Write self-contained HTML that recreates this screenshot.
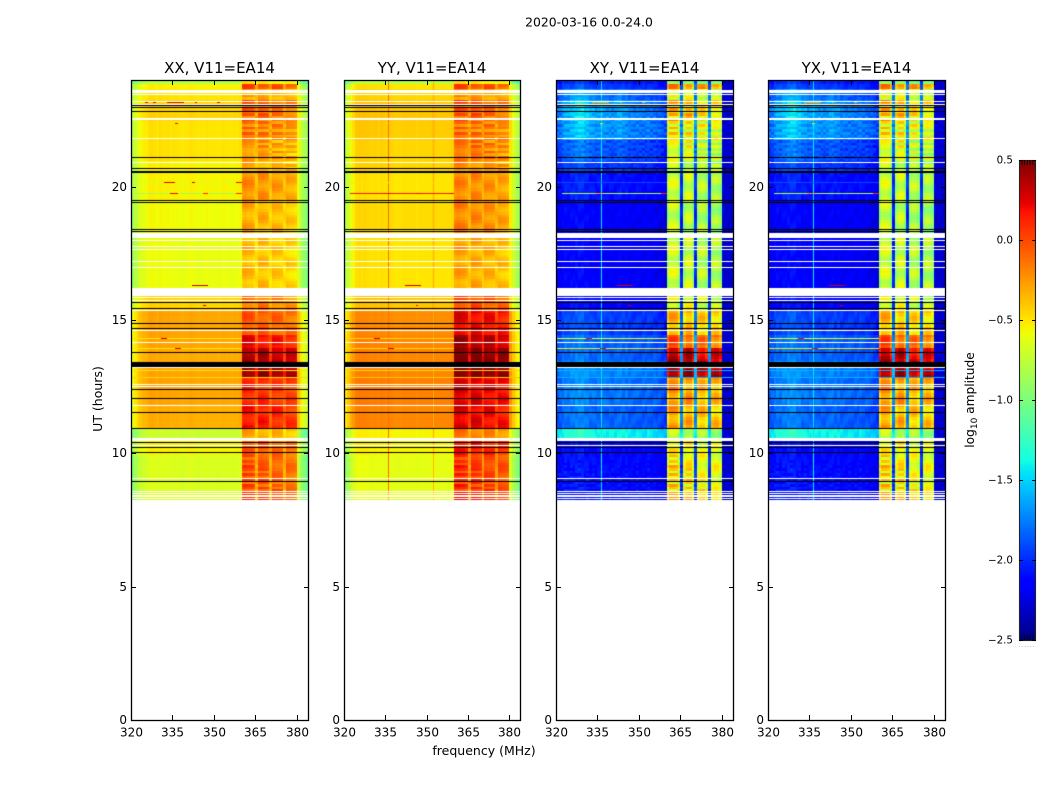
<!DOCTYPE html>
<html lang="en">
<head>
<meta charset="utf-8">
<title>2020-03-16 0.0-24.0</title>
<style>
html,body{margin:0;padding:0;background:#fff;}
#figure{position:relative;width:1050px;height:800px;overflow:hidden;background:#fff;font-family:"DejaVu Sans","Liberation Sans",sans-serif;}
canvas{position:absolute;display:block;}
#overlay{position:absolute;left:0;top:0;}
#overlay text{font-family:"DejaVu Sans","Liberation Sans",sans-serif;fill:#000;}
</style>
</head>
<body>
<div id="figure">
<svg id="overlay" width="1050" height="800" viewBox="0 0 1050 800">
<text x="589" y="26.5" font-size="12.4" text-anchor="middle">2020-03-16 0.0-24.0</text>
<text x="484" y="755" font-size="12.5" text-anchor="middle">frequency (MHz)</text>
<text transform="translate(102,399) rotate(-90)" font-size="12.5" text-anchor="middle">UT (hours)</text>
<text transform="translate(974,400) rotate(-90)" font-size="12.2" text-anchor="middle">log<tspan font-size="9" dy="3">10</tspan><tspan dy="-3"> amplitude</tspan></text>
</svg>
</div>
<script>
/* ---------- axis data ---------- */
const panelTitles = ["XX, V11=EA14", "YY, V11=EA14", "XY, V11=EA14", "YX, V11=EA14"];
const xTickValues = [320, 335, 350, 365, 380];
const yTickValues = [0, 5, 10, 15, 20];
const colorbarTicks = [0.5, 0, -0.5, -1, -1.5, -2, -2.5];
const freqRange = [320, 384];
const hourRange = [0, 24];
const colorRange = [-2.5, 0.5];
const firstRowHour = 8.25;
const rowStepHours = 0.1;

/* ---------- time segments (start hour, bottom to top) ---------- */
const segmentStart = [8.25, 9.94, 10.5, 10.95, 11.81, 12.83, 13.24, 13.43, 13.99, 14.44, 15.34, 16.13, 18.3, 19.43, 20.55, 21.0, 21.75, 22.5, 23.25, 23.63, 23.89];
const baseXX = [-0.66, -0.55, -0.72, -0.33, -0.3, -0.3, -0.3, -0.32, -0.3, -0.3, -0.45, -0.6, -0.58, -0.55, -0.55, -0.5, -0.5, -0.45, -0.5, -0.55, -0.8];
const rfiXX = [-0.1, -0.1, -0.35, 0.1, 0.05, 0.42, 0.42, 0.32, 0.15, -0.1, -0.2, -0.42, -0.38, -0.28, -0.38, -0.32, -0.22, -0.15, -0.35, -0.05, -0.55];
const baseYY = [-0.62, -0.55, -0.55, -0.2, -0.18, -0.2, -0.2, -0.2, -0.2, -0.22, -0.4, -0.5, -0.47, -0.5, -0.45, -0.45, -0.42, -0.4, -0.45, -0.5, -0.8];
const rfiYY = [0.0, 0.1, -0.2, 0.2, 0.22, 0.5, 0.5, 0.48, 0.35, 0.18, -0.05, -0.35, -0.25, -0.25, -0.28, -0.2, -0.2, -0.12, -0.3, -0.05, -0.55];
const baseXY = [-2.15, -2.15, -1.5, -1.9, -1.85, -1.8, -1.8, -1.9, -1.9, -2.0, -2.2, -2.2, -2.2, -2.15, -2.05, -2.0, -1.85, -1.85, -1.95, -2.05, -2.1];
const rfiXY = [-0.55, -0.6, -0.8, -0.35, -0.3, 0.4, 0.4, 0.3, -0.1, -0.4, -0.65, -0.75, -0.8, -0.75, -0.78, -0.7, -0.6, -0.45, -0.65, -0.25, -1.0];
const baseYX = [-2.15, -2.15, -1.5, -1.9, -1.85, -1.8, -1.8, -1.9, -1.9, -2.0, -2.2, -2.2, -2.2, -2.15, -2.05, -2.0, -1.85, -1.85, -1.95, -2.05, -2.1];
const rfiYX = [-0.55, -0.6, -0.8, -0.37, -0.3, 0.38, 0.38, 0.28, -0.1, -0.42, -0.65, -0.75, -0.8, -0.75, -0.78, -0.7, -0.6, -0.45, -0.65, -0.25, -1.0];
const crossWarmth = [0.05, 0.05, 0.2, 0.12, 0.12, 0.1, 0.1, 0.1, 0.1, 0.1, 0.1, 0.05, 0.05, 0.1, 0.12, 0.2, 0.3, 0.38, 0.32, 0.15, 0.1];

/* ---------- channel profiles (320 to 383 MHz, one value per MHz) ---------- */
const profileXX = [-0.3,-0.2,-0.12,-0.07,-0.03,-0.02,0.02,0.03,0.02,0,0.03,0.02,0.01,0.02,0,0.01,0.01,0,-0.01,0,0,0.02,0.01,0,-0.01,0,0,0.01,0,0,0,-0.01,0,0.01,0,0,-0.01,0,0,0.02,0,0,0,0,0,0,0,0,0,0,0,0,0,0,0,0,0,0,0,0,-0.05,-0.2,-0.3,-0.38];
const profileYY = [-0.32,-0.22,-0.12,-0.06,0.02,0.03,0.02,0.03,0.02,0.01,0.01,0.02,0,0.02,0.01,0,0.01,0,-0.01,-0.01,-0.01,0,0,0,0,0,-0.02,0,0,0,0,0,0.04,0,0,0,0,0,0,0.02,0,0,0,0,0,0,0,0,0,0,0,0,0,0,0,0,0,0,0,0,-0.05,-0.2,-0.3,-0.38];
const profileCross = [0,0,0.03,0.05,0.02,0.04,0.03,0.05,0.05,0.05,0.02,0.03,0,0.02,0,0.02,0.02,0.02,0,0.02,0,0,0.01,0.02,0,0.02,0,0,0,0.02,0,0,0,0.02,0,0,-0.02,-0.02,-0.05,-0.08,0,0,0,0,0,0,0,0,0,0,0,0,0,0,0,0,0,0,0,0,0,0,0,0];
const warmShape = [0.1,0.2,0.4,0.5,0.6,0.7,0.8,0.9,1,1,0.9,0.8,0.7,0.6,0.5,0.5,0.5,0.5,0.5,0.4,0.4,0.5,0.6,0.6,0.5,0.4,0.3,0.3,0.25,0.2,0.2,0.2,0.2,0.2,0.15,0.15,0.1,0.1,0.05,0,0,0,0,0,0,0,0,0,0,0,0,0,0,0,0,0,0,0,0,0,0,0,0,0];
const blockWeightCo = [0,0,0,0,0,0,0,0,0,0,0,0,0,0,0,0,0,0,0,0,0,0,0,0,0,0,0,0,0,0,0,0,0,0,0,0,0,0,0,0,1,1,1,1,1,0.6,1,1,1,1,0.6,1,1,1,1,0.6,1,1,1,1,0,0,0,0];
const blockWeightCross = [0,0,0,0,0,0,0,0,0,0,0,0,0,0,0,0,0,0,0,0,0,0,0,0,0,0,0,0,0,0,0,0,0,0,0,0,0,0,0,0,1,1,1,1,1,0.1,1,1,1,1,0.12,1,1,1,1,0.1,1,1,1,1,0,0,0,0];
const blockOffsetCo = [0,0,0,0,0,0,0,0,0,0,0,0,0,0,0,0,0,0,0,0,0,0,0,0,0,0,0,0,0,0,0,0,0,0,0,0,0,0,0,0,0.06,0.08,0.05,0.05,0,0,0.05,0.05,0.03,0,0,0.02,0,0,-0.02,0,-0.02,-0.05,-0.05,-0.08,0,0,0,0];
const blockOffsetCross = [0,0,0,0,0,0,0,0,0,0,0,0,0,0,0,0,0,0,0,0,0,0,0,0,0,0,0,0,0,0,0,0,0,0,0,0,0,0,0,0,-0.1,0.08,0.08,0.05,-0.15,0,-0.08,0.05,0.05,-0.15,0,-0.08,-0.02,-0.02,-0.15,0,-0.1,-0.03,-0.05,-0.18,0,0,0,0];
const channelPhase = [0,3,7,2,9,4,11,6,1,8,13,5,10,3,12,7,2,15,6,9,1,14,4,11,8,3,16,5,12,2,10,7,13,1,9,6,15,4,11,0,0,0,0,0,0,3,5,5,5,5,8,9,9,9,9,12,14,14,14,14,2,6,3,8];
const crossEdgeLevel = -2.3;

/* ---------- single-channel vertical lines (thin, drawn over the heatmap) ---------- */
const lineMHz = [336.1, 352.2];
const lineXX = [null, null];
const lineYY = [-0.12, -0.35];
const lineXY = [-1.45, null];
const lineYX = [-1.45, null];

/* ---------- row ripple in the interference blocks (bottom to top) ---------- */
const rowRipple = [0.25,-0.15,0.25,-0.2,0.1,0.25,-0.25,0.15,-0.1,0.2,-0.2,0.1,0.25,-0.15,0.1,-0.2,0.15,
0.1,0.12,0.05,-0.05,-0.1,-0.12,-0.05,0.05,0.12,0.15,0.1,0,-0.08,-0.12,-0.1,0.02,0.1,0.14,0.08,-0.02,
-0.1,-0.14,-0.08,0.04,0.12,0.16,0.12,0.03,-0.06,-0.12,-0.15,-0.1,-0.02,0.08,0.15,0.12,0.05,-0.05,-0.12,-0.08,
0.02,0.1,0.16,0.14,0.06,-0.04,-0.1,-0.14,-0.1,0,0.08,0.14,0.12,0.04,-0.06,-0.12,-0.13,-0.06,0.05,0.13,
0.15,0.08,-0.02,-0.1,-0.14,-0.09,0.02,0.1,0.15,0.1,0.02,-0.07,-0.13,-0.12,-0.04,0.06,0.13,0.14,0.07,-0.03,
-0.1,-0.14,-0.08,0.03,0.11,0.16,0.11,0.02,-0.08,-0.14,-0.11,-0.02,0.08,0.15,0.13,0.05,-0.05,-0.12,-0.1,-0.02,
0.07,0.14,0.12,0.03,-0.07,-0.13,-0.1,-0.01,0.09,0.15,0.11,0.03,-0.06,-0.12,-0.09,0.01,0.1,0.13,0.06,-0.04];

/* ---------- flagged rows: white = no data, black = masked ---------- */
const whiteHour = [23.57,23.46,23.2,23.08,22.555,22.505,21.81,20.91,18.155,17.98,17.765,17.645,17.21,16.985,16.05,15.845,15.73,15.36,14.61,14.16,13.22,12.58,12.525,11.795,10.52,10.295,9.06,8.57,8.495,8.4,8.31];
const whiteSpan = [0.115,0.06,0.04,0.04,0.03,0.03,0.04,0.04,0.19,0.04,0.05,0.03,0.04,0.03,0.28,0.03,0.04,0.04,0.04,0.04,0.04,0.04,0.03,0.03,0.12,0.03,0.04,0.04,0.03,0.04,0.04];
const blackHour = [23.03,22.97,22.83,21.1,20.69,20.55,19.49,19.41,18.4,18.33,15.66,15.44,14.88,14.69,13.79,13.335,12.38,12.06,11.54,10.94,10.41,10.23,10.04,8.94];
const blackSpan = [0.045,0.045,0.045,0.045,0.045,0.045,0.045,0.045,0.045,0.045,0.045,0.045,0.045,0.045,0.045,0.19,0.045,0.045,0.045,0.045,0.045,0.045,0.045,0.045];

/* ---------- narrow interference streaks ---------- */
const streakHour = [23.14,23.14,23.14,23.14,23.14,20.15,20.15,20.15,20.15,19.74,19.74,19.74,19.74,14.29,14.29,13.91,13.91,13.09,12.83,12.4,12.4,16.3,15.55,22.35];
const streakFrom = [333,325,328,343,351,320,332,342,358,322,334,346,358,320,331,320,336,320,320,320,329,342,346,336];
const streakTo = [339,326,329,344,352,360,336,343,360,360,337,348,360,360,333,360,338,384,384,350,331,348,347,337];
const streakXX = [0.25,0.25,0.25,0.25,0.25,-0.68,0.25,0.25,0.2,-0.85,0.2,0.1,0.1,-0.5,0.3,-0.5,0.25,-0.5,-0.45,0.05,0.3,0.3,0.3,0.2];
const streakYY = [-0.35,-0.35,-0.35,-0.35,-0.35,-0.5,-0.5,-0.5,-0.5,0.15,0.2,0.2,0.2,-0.45,0.3,-0.45,0.25,-0.45,-0.4,-0.05,0.1,0.3,0.2,-0.4];
const streakXY = [-0.3,-1.4,-0.3,-0.3,-0.3,-1.9,-1.9,-1.9,-1.9,-0.8,-0.3,-1.0,0.1,-0.6,0.2,-0.5,0.2,-1.6,-1.6,-0.6,0.1,0.3,0.3,-0.5];
const streakYX = [-0.3,-1.4,-0.3,-0.3,-0.3,-1.9,-1.9,-1.9,-1.9,-0.8,-0.3,-1.0,0.1,-0.6,0.2,-0.5,0.2,-1.6,-1.6,-0.6,0.1,0.3,0.3,-0.5];

/* ---------- layout ---------- */
const panelLeft = [131, 344, 556, 768];
const panelWidths = [177, 176, 177, 177];
const plotTop = 80;
const plotHeight = 640;

const panels = [
  {key: "xx", base: baseXX, rfi: rfiXX, profile: profileXX, weight: blockWeightCo, offset: blockOffsetCo, streak: streakXX, line: lineXX, cross: false},
  {key: "yy", base: baseYY, rfi: rfiYY, profile: profileYY, weight: blockWeightCo, offset: blockOffsetCo, streak: streakYY, line: lineYY, cross: false},
  {key: "xy", base: baseXY, rfi: rfiXY, profile: profileCross, weight: blockWeightCross, offset: blockOffsetCross, streak: streakXY, line: lineXY, cross: true},
  {key: "yx", base: baseYX, rfi: rfiYX, profile: profileCross, weight: blockWeightCross, offset: blockOffsetCross, streak: streakYX, line: lineYX, cross: true}
];

function xScale(mhz, width) {
  return (mhz - freqRange[0]) / (freqRange[1] - freqRange[0]) * width;
}
function yScale(hour) {
  return plotHeight - (hour - hourRange[0]) / (hourRange[1] - hourRange[0]) * plotHeight;
}
function lerpTable(t, table) {
  for (let i = 1; i < table.length; i++) {
    if (t <= table[i][0]) {
      const a = table[i - 1], b = table[i];
      return a[1] + (b[1] - a[1]) * (t - a[0]) / (b[0] - a[0]);
    }
  }
  return table[table.length - 1][1];
}
const jetRed = [[0,0],[0.35,0],[0.66,1],[0.89,1],[1,0.5]];
const jetGreen = [[0,0],[0.125,0],[0.375,1],[0.64,1],[0.91,0],[1,0]];
const jetBlue = [[0,0.5],[0.11,1],[0.34,1],[0.65,0],[1,0]];
function jet(value) {
  const t = Math.min(1, Math.max(0, (value - colorRange[0]) / (colorRange[1] - colorRange[0])));
  const r = Math.round(255 * lerpTable(t, jetRed));
  const g = Math.round(255 * lerpTable(t, jetGreen));
  const b = Math.round(255 * lerpTable(t, jetBlue));
  return "rgb(" + r + "," + g + "," + b + ")";
}
function segmentIndex(hour) {
  let s = 0;
  for (let i = 0; i < segmentStart.length; i++) {
    if (hour >= segmentStart[i]) s = i;
  }
  return s;
}
function cellValue(panel, row, ch, hour) {
  const mhz = freqRange[0] + ch;
  if (panel.cross && mhz >= 380) {
    return crossEdgeLevel + rowRipple[(row + channelPhase[ch]) % rowRipple.length] * 0.3;
  }
  const s = segmentIndex(hour);
  const w = panel.weight[ch];
  let base = panel.base[s] + panel.profile[ch];
  if (panel.cross) base += crossWarmth[s] * warmShape[ch];
  const rfi = panel.rfi[s] + panel.offset[ch];
  const ripple = rowRipple[(row + channelPhase[ch]) % rowRipple.length];
  const rfiGain = panel.cross ? 0.9 : 0.55;
  const baseGain = panel.cross ? 0.35 : 0;
  return base * (1 - w) + rfi * w + ripple * (w * rfiGain + (1 - w) * baseGain);
}
function fillBand(ctx, hourCentre, span, color, width) {
  const y0 = Math.round(yScale(hourCentre + span / 2));
  const y1 = Math.max(y0 + 1, Math.round(yScale(hourCentre - span / 2)));
  ctx.fillStyle = color;
  ctx.fillRect(0, y0, width, y1 - y0);
}

const figure = document.getElementById("figure");
const overlay = document.getElementById("overlay");
const NS = "http://www.w3.org/2000/svg";

function addLine(x1, y1, x2, y2, width, color) {
  const el = document.createElementNS(NS, "line");
  el.setAttribute("x1", x1);
  el.setAttribute("y1", y1);
  el.setAttribute("x2", x2);
  el.setAttribute("y2", y2);
  el.setAttribute("stroke", color);
  el.setAttribute("stroke-width", width);
  overlay.appendChild(el);
  return el;
}
function addText(x, y, str, size, anchor) {
  const el = document.createElementNS(NS, "text");
  el.setAttribute("x", x);
  el.setAttribute("y", y);
  el.setAttribute("font-size", size);
  el.setAttribute("text-anchor", anchor);
  el.textContent = str;
  overlay.appendChild(el);
  return el;
}

panels.forEach(function (panel, index) {
  const left = panelLeft[index];
  const panelWidth = panelWidths[index];
  const canvas = document.createElement("canvas");
  canvas.width = panelWidth;
  canvas.height = plotHeight;
  canvas.style.left = left + "px";
  canvas.style.top = plotTop + "px";
  
  
  figure.insertBefore(canvas, overlay);
  const ctx = canvas.getContext("2d");
  ctx.fillStyle = "#fff";
  ctx.fillRect(0, 0, panelWidth, plotHeight);

  const channelCount = panel.profile.length;
  for (let row = 0; firstRowHour + row * rowStepHours < hourRange[1]; row++) {
    const hour = firstRowHour + row * rowStepHours;
    const y0 = Math.round(yScale(hour + rowStepHours));
    const y1 = Math.round(yScale(hour));
    for (let ch = 0; ch < channelCount; ch++) {
      const x0 = Math.round(xScale(freqRange[0] + ch, panelWidth));
      const x1 = Math.round(xScale(freqRange[0] + ch + 1, panelWidth));
      ctx.fillStyle = jet(cellValue(panel, row, ch, hour + rowStepHours / 2));
      ctx.fillRect(x0, y0, x1 - x0, y1 - y0);
    }
  }
  lineMHz.forEach(function (mhz, i) {
    if (panel.line[i] === null) return;
    ctx.fillStyle = jet(panel.line[i]);
    ctx.fillRect(Math.round(xScale(mhz, panelWidth)), Math.round(yScale(24)), 1, Math.round(yScale(firstRowHour) - yScale(24)));
  });
  streakHour.forEach(function (h, i) {
    const y0 = Math.round(yScale(h + 0.03));
    const x0 = Math.round(xScale(streakFrom[i], panelWidth));
    const x1 = Math.round(xScale(streakTo[i], panelWidth));
    ctx.fillStyle = jet(panel.streak[i]);
    ctx.fillRect(x0, y0, x1 - x0, 1);
  });
  whiteHour.forEach(function (h, i) {
    fillBand(ctx, h, whiteSpan[i], "#fff", panelWidth);
  });
  blackHour.forEach(function (h, i) {
    fillBand(ctx, h, blackSpan[i], "#000", panelWidth);
  });

  /* frame */
  const frame = document.createElementNS(NS, "rect");
  frame.setAttribute("x", left + 0.5);
  frame.setAttribute("y", plotTop + 0.5);
  frame.setAttribute("width", panelWidth);
  frame.setAttribute("height", plotHeight);
  frame.setAttribute("fill", "none");
  frame.setAttribute("stroke", "#000");
  frame.setAttribute("stroke-width", "1.3");
  
  
  overlay.appendChild(frame);

  /* title */
  const title = addText(left + panelWidth / 2, 73, panelTitles[index], 15, "middle");
  
  

  /* x ticks */
  xTickValues.forEach(function (v) {
    const x = Math.round(left + xScale(v, panelWidth)) + 0.5;
    const bottom = addLine(x, plotTop + plotHeight, x, plotTop + plotHeight - 5, 1, "#000");
    
    
    const top = addLine(x, plotTop, x, plotTop + 5, 1, "#000");
    
    
    const label = addText(x, 736.5, String(v), 12, "middle");
    
    
  });

  /* y ticks */
  yTickValues.forEach(function (v) {
    const y = Math.round(plotTop + yScale(v)) + 0.5;
    const leftTick = addLine(left, y, left + 5, y, 1, "#000");
    
    
    const rightTick = addLine(left + panelWidth + 1, y, left + panelWidth - 4, y, 1, "#000");
    
    
    const label = addText(left - 4, y + 3.5, String(v), 12, "end");
    
    
  });
});

/* ---------- colorbar ---------- */
const cbLeft = 1019, cbTop = 160, cbWidth = 16, cbHeight = 480;
function cbScale(value) {
  return (colorRange[1] - value) / (colorRange[1] - colorRange[0]) * cbHeight;
}
const cbCanvas = document.createElement("canvas");
cbCanvas.width = cbWidth;
cbCanvas.height = cbHeight;
cbCanvas.style.left = cbLeft + "px";
cbCanvas.style.top = cbTop + "px";


figure.insertBefore(cbCanvas, overlay);
const cbCtx = cbCanvas.getContext("2d");
for (let y = 0; y < cbHeight; y++) {
  cbCtx.fillStyle = jet(colorRange[1] - (y + 0.5) / cbHeight * (colorRange[1] - colorRange[0]));
  cbCtx.fillRect(0, y, cbWidth, 1);
}
const cbFrame = document.createElementNS(NS, "rect");
cbFrame.setAttribute("x", cbLeft + 0.5);
cbFrame.setAttribute("y", cbTop + 0.5);
cbFrame.setAttribute("width", cbWidth);
cbFrame.setAttribute("height", cbHeight);
cbFrame.setAttribute("fill", "none");
cbFrame.setAttribute("stroke", "#222");
cbFrame.setAttribute("stroke-width", "1.1");


overlay.appendChild(cbFrame);
colorbarTicks.forEach(function (v) {
  const y = Math.round(cbTop + cbScale(v)) + 0.5;
  const a = addLine(cbLeft, y, cbLeft + 4, y, 1, "#000");
  
  
  const b = addLine(cbLeft + cbWidth + 1, y, cbLeft + cbWidth - 3, y, 1, "#000");
  
  
  const text = (v < 0 ? "\u2212" : "") + Math.abs(v).toFixed(1);
  const label = addText(cbLeft - 6, y + 3, text, 10.3, "end");
  
  
});
const cbMinorOffsets = [3, 5.7, 8.4, 11.1, 13.8];
cbMinorOffsets.forEach(function (dx) {
  const x = cbLeft + dx;
  const t = addLine(x, cbTop, x, cbTop + 5, 0.8, "#000");
  
  
  const u = addLine(x, cbTop + cbHeight, x, cbTop + cbHeight - 5, 0.8, "#000");
  
  
});
const cbDots = addText(cbLeft + 8, cbTop + cbHeight + 7, "......", 6, "middle");
cbDots.setAttribute("style", "fill:#888;letter-spacing:1px");


</script>
</body>
</html>
